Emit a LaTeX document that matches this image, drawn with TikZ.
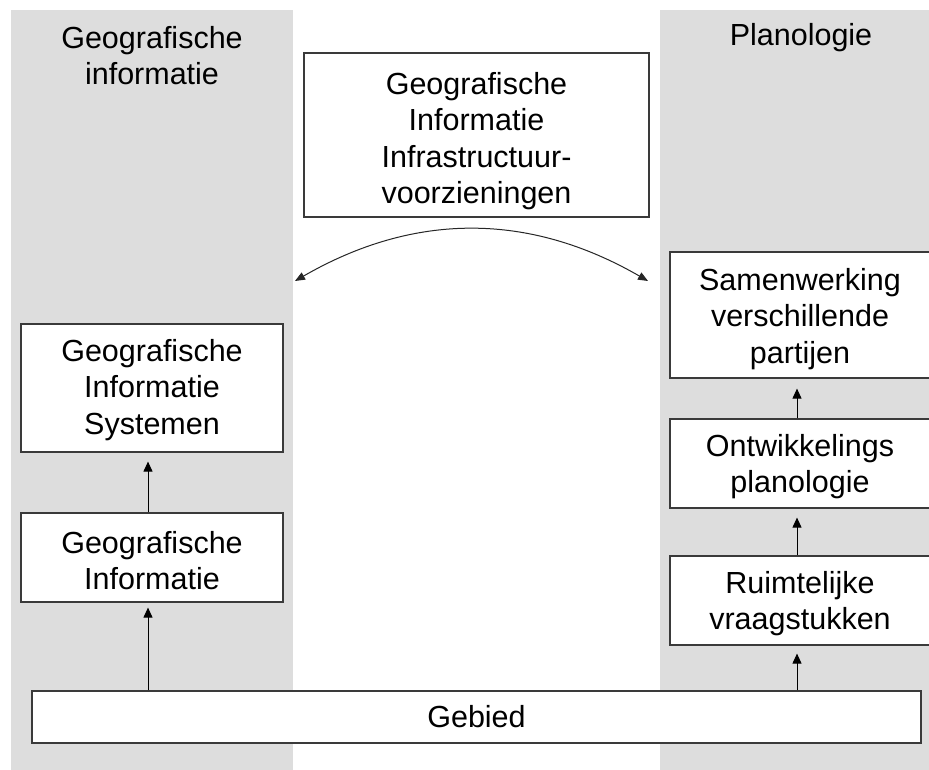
\documentclass[tikz,border=0pt]{standalone}
\usepackage{fontspec}
\setmainfont{Liberation Sans}
\usetikzlibrary{arrows.meta}

\definecolor{colgrey}{HTML}{DDDDDD}
\definecolor{boxline}{HTML}{3A3A3A}

\tikzset{
  column/.style={fill=colgrey, draw=none},
  box/.style={draw=boxline, line width=1.2pt, fill=white, rectangle,
    inner sep=0pt, anchor=center},
  txt/.style={font=\fontsize{30.5}{36.5}\selectfont, align=center,
    inner sep=0pt, text=black},
  uparrow/.style={draw=black, line width=1pt,
    -{Triangle[length=10pt,width=9pt]}},
  bothways/.style={draw=black!85, line width=1pt,
    {Triangle[length=10pt,width=8pt]}-{Triangle[length=10pt,width=8pt]}}
}

\begin{document}
\begin{tikzpicture}[x=1pt, y=-1pt]
  \useasboundingbox (0,0) rectangle (929,770);
  \clip (0,0) rectangle (929,770);
  \fill[white] (0,0) rectangle (929,770);

  % the two shaded columns (the right one runs off the page edge)
  \path[column] (11,10) rectangle (293,770);
  \path[column] (660,10) rectangle (960,770);

  % column headings
  \node[txt, anchor=north] (headL) at (152,26) {Geografische\\informatie};
  \node[txt, anchor=north] (headR) at (801,23) {Planologie};

  % central box
  \node[box, minimum width=345pt, minimum height=164pt] (gii) at (476.5,135) {};
  \node[txt] (giiT) at ([yshift=-6pt]gii.center)
    {Geografische\\Informatie\\Infrastructuur-\\voorzieningen};

  % left column boxes
  \node[box, minimum width=262pt, minimum height=128pt] (gis) at (152,388) {};
  \node[txt] (gisT) at ([yshift=-2pt]gis.center) {Geografische\\Informatie\\Systemen};
  \node[box, minimum width=262pt, minimum height=89pt] (gi) at (152,557.5) {};
  \node[txt] (giT) at ([yshift=-3pt]gi.center) {Geografische\\Informatie};

  % right column boxes, cut off by the page edge
  \coordinate (textR) at (800,0);
  \node[box, minimum width=280pt, minimum height=126pt] (samen) at (810,315) {};
  \node[txt] (samenT) at ([yshift=-4pt]samen.center -| textR) {Samenwerking\\verschillende\\partijen};
  \node[box, minimum width=280pt, minimum height=89pt] (ontw) at (810,463.5) {};
  \node[txt] (ontwT) at ([yshift=-3pt]ontw.center -| textR) {Ontwikkelings\\planologie};
  \node[box, minimum width=280pt, minimum height=89pt] (ruimte) at (810,600.5) {};
  \node[txt] (ruimteT) at ([yshift=-3pt]ruimte.center -| textR) {Ruimtelijke\\vraagstukken};

  % base box
  \node[box, minimum width=889pt, minimum height=52pt] (gebied) at (476.5,717) {};
  \node[txt] (gebiedT) at (gebied.center) {Gebied};

  % arrow lanes
  \coordinate (laneL) at (148,0);
  \coordinate (laneR) at (797,0);

  % upward arrows, left column
  \draw[uparrow, shorten >=5pt] (gebied.north -| laneL) -- (gi.south -| laneL);
  \draw[uparrow, shorten >=9pt] (gi.north -| laneL) -- (gis.south -| laneL);

  % upward arrows, right column
  \draw[uparrow, shorten >=8pt] (gebied.north -| laneR) -- (ruimte.south -| laneR);
  \draw[uparrow, shorten >=9pt] (ruimte.north -| laneR) -- (ontw.south -| laneR);
  \draw[uparrow, shorten >=10pt] (ontw.north -| laneR) -- (samen.south -| laneR);

  % curved link between the two columns
  \coordinate (linkL) at (295,281);
  \coordinate (linkR) at (648,281);
  \draw[bothways] (linkL) to[bend left=30] (linkR);
\end{tikzpicture}
\end{document}
